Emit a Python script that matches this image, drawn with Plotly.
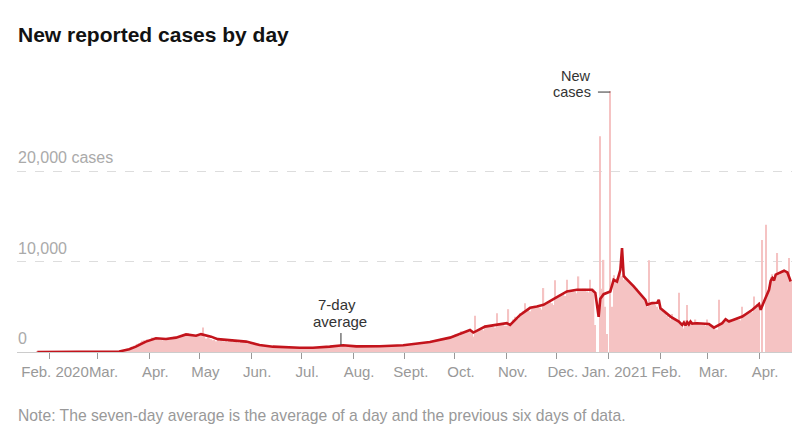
import pandas as pd
import plotly.graph_objects as go

# ---- Daily new reported cases, one list per month ----
cases_2020_01 = [1, 0, 1, 0, 0, 0, 1]  # Jan 25-31
cases_2020_02 = [0, 0, 0, 0, 0, 0, 0, 0, 0, 0, 0, 0, 0, 0, 0, 0, 0, 0, 0,
                 1, 2, 1, 0, 0, 0, 1, 2, 1, 2]
cases_2020_03 = [3, 3, 4, 3, 4, 5, 5, 8, 6, 11, 23, 29, 45,
                 60, 90, 150, 200, 300, 350, 450,
                 550, 600, 700, 800, 900, 1000, 1100, 1250, 1300, 1200, 1400]
cases_2020_04 = [1300, 1400, 1600, 1500, 1550, 1400, 1500, 1350, 1300, 1450,
                 1400, 1450, 1350, 1400, 1550, 1700, 1600, 1700, 1550, 1650,
                 1800, 1900, 2000, 2100, 1900, 1850, 1800, 1800, 1750, 1800]
cases_2020_05 = [1800, 1900, 2700, 1700, 1500, 1600, 1500, 1400, 1300, 1350,
                 1200, 1300, 1250, 1300, 1200, 1150, 1200, 1100, 1200, 1250,
                 1100, 1150, 1100, 1050, 1000, 1100, 1150, 1050, 1000, 950, 900]
cases_2020_06 = [900, 850, 800, 780, 760, 720, 700, 680, 660, 640,
                 620, 600, 590, 580, 570, 560, 550, 540, 530, 520,
                 510, 500, 500, 490, 480, 480, 470, 470, 460, 460]
cases_2020_07 = [460, 450, 450, 440, 430, 440, 450, 460, 470, 480,
                 480, 490, 500, 520, 540, 560, 580, 600, 620, 640,
                 660, 680, 700, 720, 740, 760, 760, 740, 720, 700, 680]
cases_2020_08 = [660, 640, 620, 610, 600, 600, 610, 620, 620, 620,
                 620, 630, 630, 640, 640, 630, 620, 620, 630, 640,
                 650, 660, 670, 680, 690, 700, 720, 730, 740, 750, 760]
cases_2020_09 = [780, 800, 820, 840, 860, 880, 900, 950, 980, 1000,
                 1020, 1040, 1060, 1080, 1100, 1150, 1200, 1250, 1300, 1350,
                 1400, 1450, 1500, 1550, 1550, 1600, 1650, 1700, 1750, 1800]
cases_2020_10 = [1950, 2000, 1900, 1800, 2300, 2100, 2200, 2300, 2400, 2300,
                 2200, 1700, 4000, 2400, 2500, 2600, 2500, 2400, 3000, 2800,
                 2800, 2900, 2900, 2800, 2700, 4300, 2900, 3000, 3100, 3000, 2900]
cases_2020_11 = [2900, 4740, 3000, 3300, 3600, 3900, 3800, 3700, 4300, 4300,
                 4500, 5400, 4800, 4700, 4500, 5000, 4900, 5000, 5100, 5100,
                 4900, 4700, 7080, 5200, 5300, 5500, 5600, 5400, 5200, 7930]
cases_2020_12 = [6000, 6200, 6300, 6400, 6400, 6200, 8000, 6600, 6700, 6800,
                 6900, 6700, 6500, 8370, 6800, 6900, 7000, 7000, 6700, 6600,
                 8000, 6900, 7000, 3000, 0, 0, 23900, 7000, 10200, 5000, 2000]
cases_2021_01 = [0, 28900, 5000, 8500, 8000, 8200, 8600, 8700, 8400, 8000,
                 8500, 8000, 7700, 7600, 7400, 7200, 6900, 7000, 6600, 6400,
                 6200, 6000, 5500, 5000, 10150, 5500, 5400, 5300, 5200, 5000, 4700]
cases_2021_02 = [5200, 4600, 4400, 4200, 4000, 3800, 3600, 4200, 3600, 3500,
                 3400, 6550, 3000, 2800, 2600, 3500, 5200, 3400, 3300, 3100,
                 3000, 3600, 3200, 3200, 3200, 3100, 3000, 2900]
cases_2021_03 = [3600, 3000, 2900, 2800, 2600, 2500, 2500, 5780, 3100, 3200,
                 3400, 3600, 3400, 3200, 3600, 3500, 3600, 3700, 3800, 3600,
                 3500, 5000, 3900, 4100, 4300, 4500, 4500, 4400, 6150, 5000, 5300]
cases_2021_04 = [5500, 0, 12400, 0, 14100, 6500, 7200, 8300, 8600, 8000,
                 8200, 10960, 8600, 8800, 9000, 9100, 8800, 8500, 10400, 7800]

daily_cases = (cases_2020_01 + cases_2020_02 + cases_2020_03 + cases_2020_04 +
               cases_2020_05 + cases_2020_06 + cases_2020_07 + cases_2020_08 +
               cases_2020_09 + cases_2020_10 + cases_2020_11 + cases_2020_12 +
               cases_2021_01 + cases_2021_02 + cases_2021_03 + cases_2021_04)
first_day = "2020-01-25"
days = pd.date_range(first_day, periods=len(daily_cases), freq="D")

# ---- 7-day average ----
avg_dates = ["2020-01-25", "2020-03-10", "2020-03-14", "2020-03-20", "2020-03-24",
             "2020-03-30", "2020-04-05", "2020-04-11", "2020-04-17", "2020-04-23",
             "2020-04-29", "2020-05-02", "2020-05-08", "2020-05-12", "2020-05-19",
             "2020-05-29", "2020-06-06", "2020-06-14", "2020-06-30", "2020-07-08",
             "2020-07-18", "2020-07-26", "2020-08-03", "2020-08-17", "2020-08-31",
             "2020-09-08", "2020-09-16", "2020-09-28", "2020-10-10", "2020-10-12",
             "2020-10-19", "2020-11-01", "2020-11-03", "2020-11-09", "2020-11-15",
             "2020-11-19", "2020-11-23", "2020-12-01", "2020-12-07", "2020-12-13",
             "2020-12-22", "2020-12-24", "2020-12-25", "2020-12-26", "2020-12-27",
             "2020-12-29", "2021-01-02", "2021-01-04", "2021-01-06", "2021-01-08",
             "2021-01-09", "2021-01-10", "2021-01-16", "2021-01-23", "2021-01-24",
             "2021-01-27", "2021-01-30", "2021-01-31", "2021-02-01", "2021-02-07",
             "2021-02-12", "2021-02-14", "2021-02-15", "2021-02-16", "2021-02-17",
             "2021-02-18", "2021-02-19", "2021-02-20", "2021-02-23",
             "2021-03-02", "2021-03-05", "2021-03-10", "2021-03-12", "2021-03-14",
             "2021-03-22", "2021-03-28", "2021-04-01", "2021-04-02", "2021-04-04",
             "2021-04-07", "2021-04-08", "2021-04-09", "2021-04-10", "2021-04-11",
             "2021-04-16", "2021-04-18", "2021-04-20"]
avg_values = [0, 20, 60, 300, 590,
              1150, 1520, 1440, 1590, 1950,
              1800, 1980, 1700, 1420, 1290,
              1150, 780, 590, 470, 470,
              600, 750, 620, 630, 750,
              960, 1100, 1590, 2440, 2150,
              2810, 3190, 3000, 4110, 4890,
              5030, 5220, 6070, 6700, 6890,
              6890, 6550, 5200, 3900, 5900,
              6400, 6700, 8000, 7800, 9100,
              11500, 8400, 7260, 5780, 5220,
              5410, 5450, 5780, 4850, 3920,
              3370, 3000, 3250, 2950, 3300,
              3050, 3370, 3150, 3190,
              3110, 2700, 3190, 3630, 3370,
              3920, 4670, 5300, 4670, 5590,
              6890, 7900, 8190, 7930, 8560,
              9000, 8810, 7810]

# ---- Axis ticks ----
month_ticks = ["2020-02-01", "2020-03-01", "2020-04-01", "2020-05-01", "2020-06-01",
               "2020-07-01", "2020-08-01", "2020-09-01", "2020-10-01", "2020-11-01",
               "2020-12-01", "2021-01-01", "2021-02-01", "2021-03-01", "2021-04-01"]
month_labels = ["Feb. 2020", "Mar.", "Apr.", "May", "Jun.", "Jul.", "Aug.", "Sept.",
                "Oct.", "Nov.", "Dec.", "Jan. 2021", "Feb.", "Mar.", "Apr."]
y_ticks = [0, 10000, 20000]
y_labels = ["0", "10,000", "20,000 cases"]

FONT = "Liberation Sans, Arial, sans-serif"
INK = "#333333"

fig = go.Figure()
fig.add_trace(go.Bar(x=days, y=daily_cases, marker_color="#f5c3c3",
                     marker_line_width=0, hoverinfo="skip", showlegend=False))
fig.add_trace(go.Scatter(x=avg_dates, y=avg_values, mode="lines",
                         line=dict(color="#c3141c", width=2.6),
                         hoverinfo="skip", showlegend=False))

# y-axis labels sit above their gridlines, inside the plot
for v, lab in zip(y_ticks, y_labels):
    fig.add_annotation(xref="paper", x=0, y=v, text=lab, showarrow=False,
                       xanchor="left", yanchor="middle", yshift=13.5, xshift=-1,
                       font=dict(family=FONT, size=16, color="#aaaaaa"))

# pointer lines for the labels
fig.add_shape(type="line", x0="2020-07-24 18:00", x1="2020-07-24 18:00",
              y0=780, y1=2100, line=dict(color=INK, width=1))
fig.add_shape(type="line", x0="2020-12-25 14:00", x1="2021-01-02 00:00",
              y0=28780, y1=28780, line=dict(color=INK, width=1))

fig.add_annotation(x="2020-07-22 12:00", y=5310, text="7-day", showarrow=False,
                   xanchor="center", yanchor="middle",
                   font=dict(family=FONT, size=15, color=INK))
fig.add_annotation(x="2020-07-24 00:00", y=3430, text="average", showarrow=False,
                   xanchor="center", yanchor="middle",
                   font=dict(family=FONT, size=15, color=INK))
fig.add_annotation(x="2020-12-22 15:00", y=30550, text="New", showarrow=False,
                   xanchor="right", yanchor="middle",
                   font=dict(family=FONT, size=14.5, color=INK))
fig.add_annotation(x="2020-12-22 15:00", y=28780, text="cases", showarrow=False,
                   xanchor="right", yanchor="middle",
                   font=dict(family=FONT, size=14.5, color=INK))

# title and note
fig.add_annotation(xref="paper", yref="paper", x=0, y=1.1357, xshift=-1,
                   text="<b>New reported cases by day</b>", showarrow=False,
                   xanchor="left", yanchor="middle",
                   font=dict(family=FONT, size=21, color="#121212"))
fig.add_annotation(xref="paper", yref="paper", x=0, y=-0.225, xshift=-1,
                   text="Note: The seven-day average is the average of a day and the previous six days of data.",
                   showarrow=False, xanchor="left", yanchor="middle",
                   font=dict(family=FONT, size=15.7, color="#999999"))

fig.update_layout(
    width=800, height=444,
    margin=dict(l=9, r=13, t=64, b=100),
    paper_bgcolor="white", plot_bgcolor="white",
    bargap=0.2,
    xaxis=dict(type="date", range=["2020-01-12 20:00", "2021-04-22 13:00"],
               tickmode="array", tickvals=month_ticks, ticktext=month_labels,
               tickangle=0, ticks="outside", ticklen=6, tickcolor="#999999",
               tickwidth=1, ticklabelshift=6, showgrid=False, showline=True,
               linecolor="#cccccc", linewidth=1, zeroline=False,
               tickfont=dict(family=FONT, size=15, color="#999999")),
    yaxis=dict(range=[0, 31000], tickmode="array", tickvals=y_ticks,
               showticklabels=False, showgrid=True, gridcolor="#dddddd",
               griddash="dash", gridwidth=1, zeroline=False, showline=False),
)

fig.write_html("out.html")
